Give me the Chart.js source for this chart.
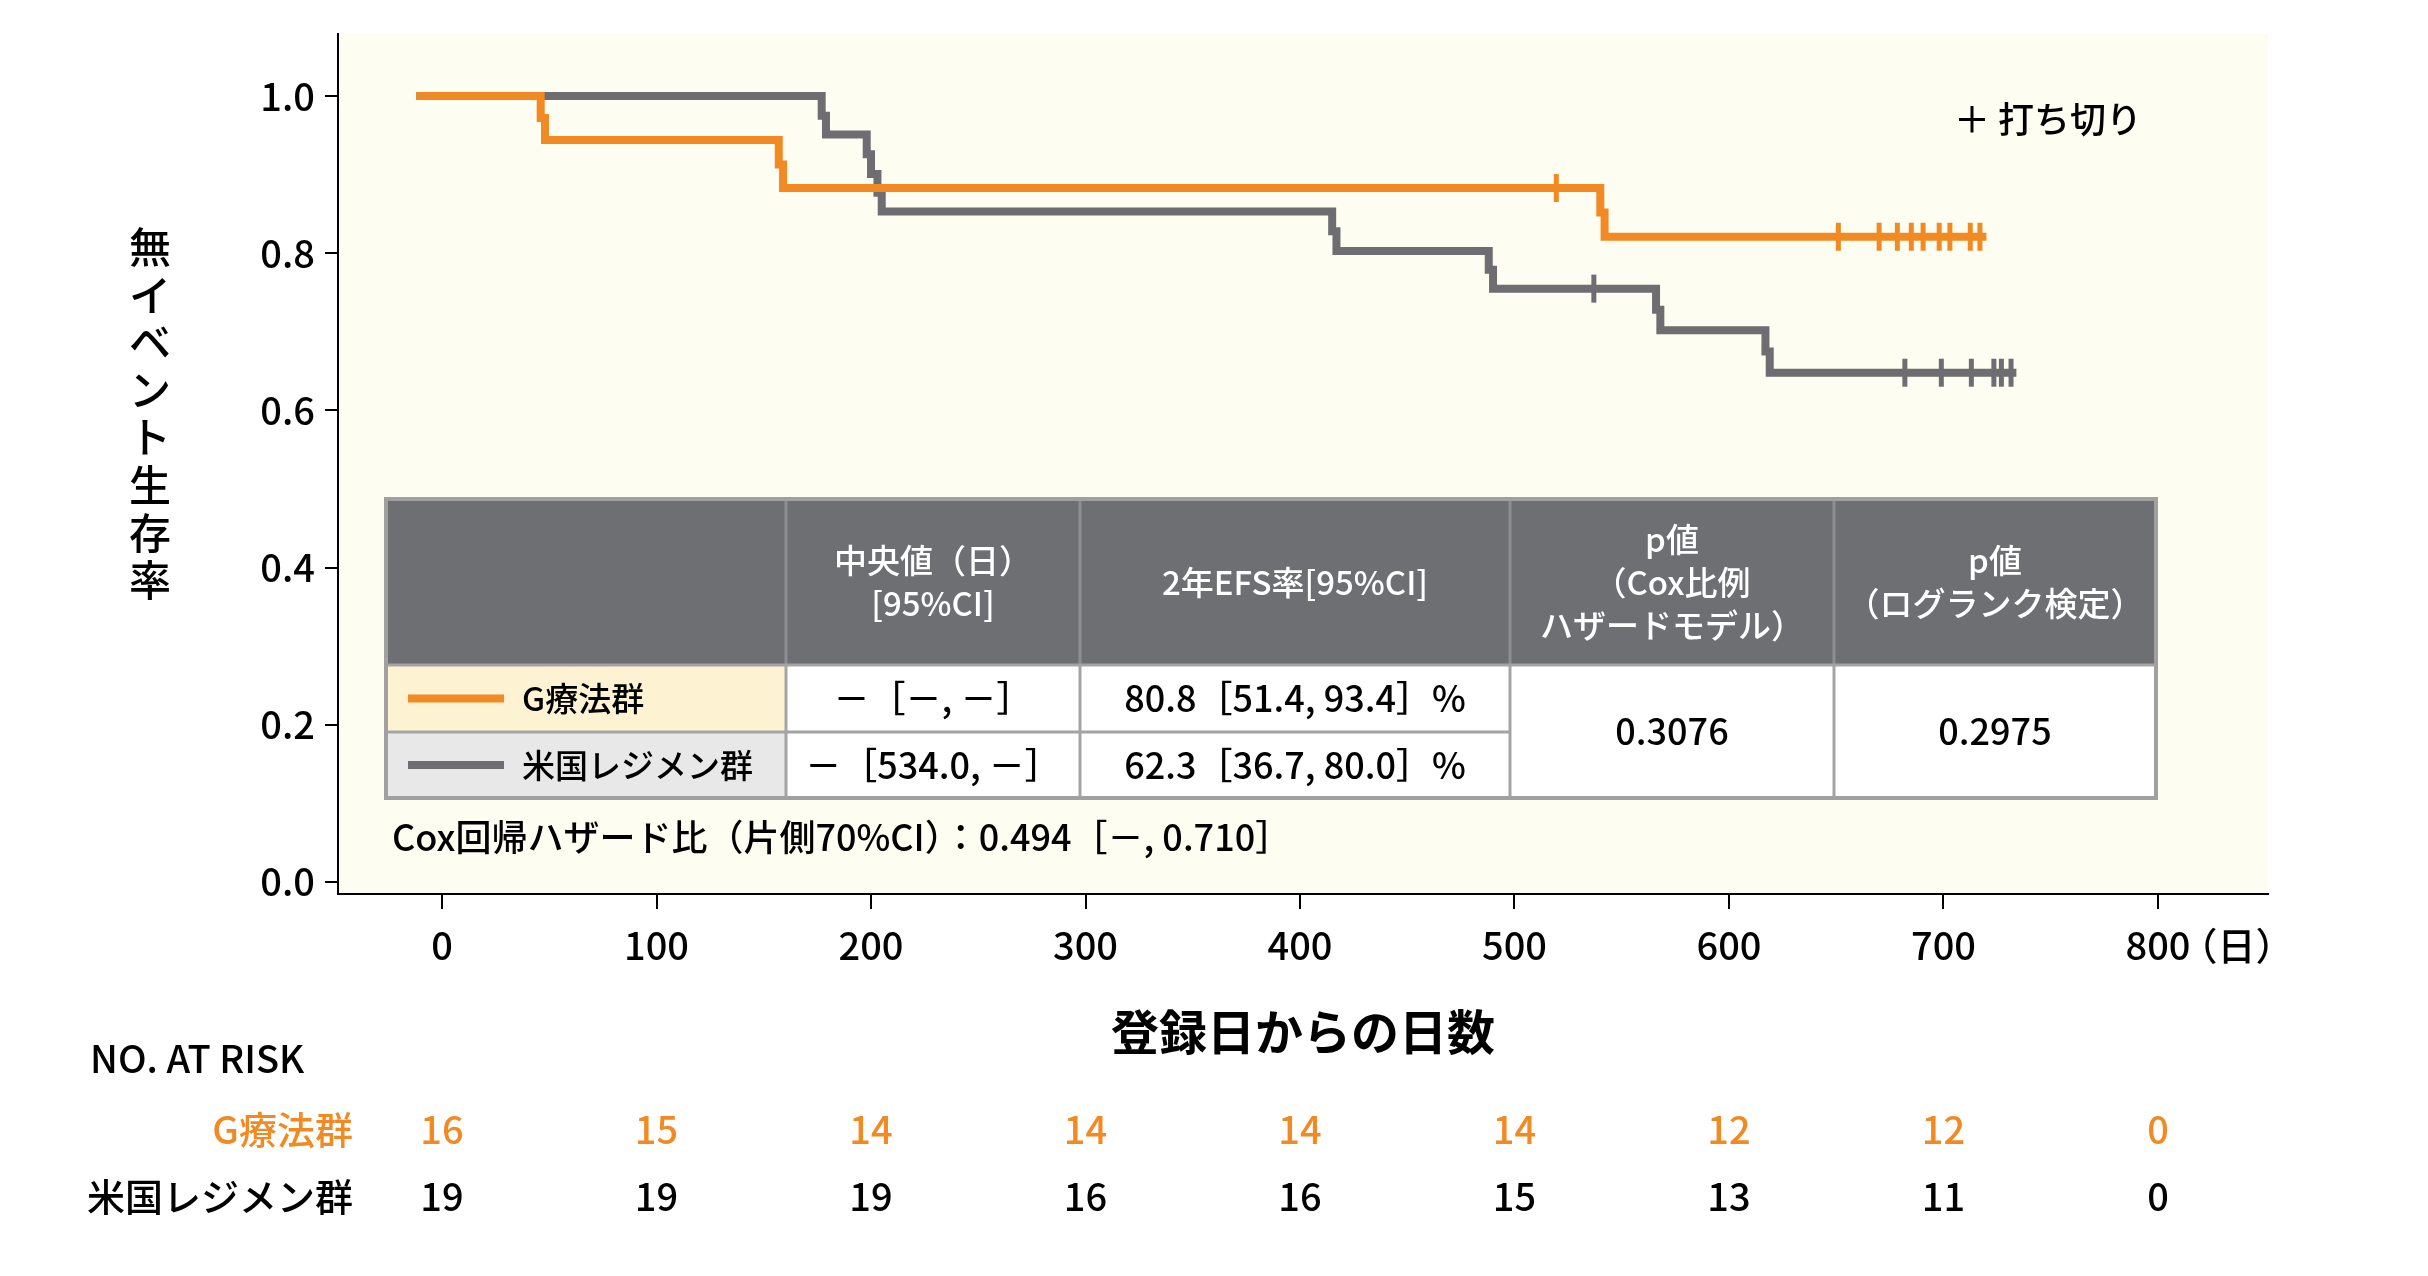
<!DOCTYPE html>
<html lang="ja">
<head>
  <meta charset="UTF-8" />
  <title>無イベント生存率</title>
  <script src="https://cdn.jsdelivr.net/npm/chart.js"></script>
  <style>
    html, body { margin: 0; padding: 0; background: #ffffff; }
    .wrap { width: 2428px; height: 1276px; position: relative; }
  </style>
</head>
<body>
  <div class="wrap"><canvas id="km"></canvas></div>

  <script>
    // step curves (day, survival)
    const gDays = [-12, 46, 48, 157, 159, 540, 542, 720];
    const gSurv = [1, 0.972, 0.944, 0.913, 0.883, 0.852, 0.821, 0.821];
    const uDays = [-12, 177, 179, 198, 200, 203, 205, 415, 417, 488, 490, 566, 568, 617, 619, 734];
    const uSurv = [1, 0.975, 0.951, 0.926, 0.901, 0.877, 0.853, 0.828, 0.803, 0.779, 0.755, 0.728, 0.702, 0.675, 0.648, 0.648];

    // censor marks
    const gCensorDays = [519.5, 651, 670, 678.5, 685, 690.5, 698, 703, 712.5, 717];
    const gCensorSurv = [0.883, 0.821, 0.821, 0.821, 0.821, 0.821, 0.821, 0.821, 0.821, 0.821];
    const uCensorDays = [537, 682, 699, 713, 723.5, 727, 731.5];
    const uCensorSurv = [0.755, 0.648, 0.648, 0.648, 0.648, 0.648, 0.648];

    const xTicks = [0, 100, 200, 300, 400, 500, 600, 700, 800];
    const yTicks = [0, 0.2, 0.4, 0.6, 0.8, 1.0];

    const groups = ["G療法群", "米国レジメン群"];
    const atRiskG = [16, 15, 14, 14, 14, 14, 12, 12, 0];
    const atRiskU = [19, 19, 19, 16, 16, 15, 13, 11, 0];

    const medianTxt = ["－［－, －］", "－［534.0, －］"];
    const efsTxt = ["80.8［51.4, 93.4］%", "62.3［36.7, 80.0］%"];
    const pCox = "0.3076";
    const pLogrank = "0.2975";

    const ORANGE = "#F28A24";
    const GRAY = "#6E6E72";
    const FONT = "'Noto Sans CJK JP', 'Noto Sans', sans-serif";

    const pts = (xs, ys) => xs.map((x, i) => ({ x: x, y: ys[i] }));

    const decorPlugin = {
      id: "decor",
      beforeDraw(chart) {
        const { ctx, chartArea: a } = chart;
        ctx.save();
        ctx.fillStyle = "#FEFDF1";
        ctx.fillRect(a.left, a.top, a.right - a.left, a.bottom - a.top);
        ctx.restore();
      },
      afterDraw(chart) {
        const { ctx, chartArea: a } = chart;
        const xs = chart.scales.x;
        ctx.save();
        ctx.fillStyle = "#000";
        ctx.textBaseline = "middle";

        // y title, one character under the other
        ctx.font = "500 42px " + FONT;
        ctx.textAlign = "center";
        Array.from("無イベント生存率").forEach((c, i) => {
          ctx.fillText(c, 150, 247 + i * 47.6);
        });

        // x title
        ctx.font = "bold 48px " + FONT;
        ctx.fillText("登録日からの日数", (a.left + a.right) / 2, 1032);

        // unit after the last tick label
        ctx.font = "500 38px " + FONT;
        const w800 = ctx.measureText("800").width;
        ctx.textAlign = "left";
        ctx.fillText("（日）", xs.getPixelForValue(800) + w800 / 2 - 11, 946);

        // censor legend
        ctx.font = "500 36px " + FONT;
        ctx.fillText("＋ 打ち切り", 1954, 119);

        // summary table
        const cx = [386, 786, 1080, 1510, 1834, 2156];
        const ry = [499, 665, 732, 798];
        ctx.fillStyle = "#6E6F73";
        ctx.fillRect(cx[0], ry[0], cx[5] - cx[0], ry[1] - ry[0]);
        ctx.fillStyle = "#ffffff";
        ctx.fillRect(cx[0], ry[1], cx[5] - cx[0], ry[3] - ry[1]);
        ctx.fillStyle = "#FDF3D2";
        ctx.fillRect(cx[0], ry[1], cx[1] - cx[0], ry[2] - ry[1]);
        ctx.fillStyle = "#E8E8E8";
        ctx.fillRect(cx[0], ry[2], cx[1] - cx[0], ry[3] - ry[2]);

        ctx.lineWidth = 3;
        ctx.strokeStyle = "#8E8F92";
        for (let i = 1; i < 5; i++) {
          ctx.beginPath();
          ctx.moveTo(cx[i], ry[0]);
          ctx.lineTo(cx[i], ry[1]);
          ctx.stroke();
        }
        ctx.strokeStyle = "#A4A4A4";
        for (let i = 1; i < 5; i++) {
          ctx.beginPath();
          ctx.moveTo(cx[i], ry[1]);
          ctx.lineTo(cx[i], ry[3]);
          ctx.stroke();
        }
        ctx.beginPath();
        ctx.moveTo(cx[0], ry[1]);
        ctx.lineTo(cx[5], ry[1]);
        ctx.moveTo(cx[0], ry[2]);
        ctx.lineTo(cx[3], ry[2]);
        ctx.stroke();
        ctx.lineWidth = 4;
        ctx.strokeStyle = "#A0A0A0";
        ctx.strokeRect(cx[0], ry[0], cx[5] - cx[0], ry[3] - ry[0]);

        // header text
        ctx.fillStyle = "#ffffff";
        ctx.font = "500 33px " + FONT;
        ctx.textAlign = "center";
        const hdr = [
          [],
          ["中央値（日）", "[95%CI]"],
          ["2年EFS率[95%CI]"],
          ["p値", "（Cox比例", "ハザードモデル）"],
          ["p値", "（ログランク検定）"]
        ];
        const hMid = (ry[0] + ry[1]) / 2;
        hdr.forEach((lines, i) => {
          if (!lines.length) return;
          const mid = (cx[i] + cx[i + 1]) / 2;
          lines.forEach((t, j) => {
            ctx.fillText(t, mid, hMid + (j - (lines.length - 1) / 2) * 43);
          });
        });

        // body rows
        ctx.fillStyle = "#000";
        [ORANGE, GRAY].forEach((col, r) => {
          const yMid = (ry[r + 1] + ry[r + 2]) / 2;
          ctx.strokeStyle = col;
          ctx.lineWidth = 8;
          ctx.beginPath();
          ctx.moveTo(408, yMid);
          ctx.lineTo(504, yMid);
          ctx.stroke();
          ctx.font = "500 33px " + FONT;
          ctx.textAlign = "left";
          ctx.fillText(groups[r], 522, yMid);
          ctx.font = "500 36px " + FONT;
          ctx.textAlign = "center";
          ctx.fillText(medianTxt[r], (cx[1] + cx[2]) / 2, yMid);
          ctx.fillText(efsTxt[r], (cx[2] + cx[3]) / 2, yMid);
        });
        const mMid = (ry[1] + ry[3]) / 2;
        ctx.fillText(pCox, (cx[3] + cx[4]) / 2, mMid);
        ctx.fillText(pLogrank, (cx[4] + cx[5]) / 2, mMid);

        ctx.textAlign = "left";
        ctx.fillText("Cox回帰ハザード比（片側70%CI）：0.494［－, 0.710］", 392, 837);

        // numbers at risk
        ctx.font = "500 38px " + FONT;
        ctx.fillText("NO. AT RISK", 90, 1059);
        ctx.textAlign = "right";
        ctx.fillStyle = ORANGE;
        ctx.fillText(groups[0], 353, 1130);
        ctx.fillStyle = "#000";
        ctx.fillText(groups[1], 353, 1197);
        ctx.textAlign = "center";
        xTicks.forEach((d, i) => {
          const px = xs.getPixelForValue(d);
          ctx.fillStyle = ORANGE;
          ctx.fillText(String(atRiskG[i]), px, 1130);
          ctx.fillStyle = "#000";
          ctx.fillText(String(atRiskU[i]), px, 1197);
        });
        ctx.restore();
      }
    };

    Chart.defaults.font.family = FONT;
    Chart.defaults.font.weight = 500;
    Chart.defaults.color = "#000";

    const chart = new Chart(document.getElementById("km"), {
      type: "line",
      data: {
        datasets: [
          {
            label: groups[0],
            data: pts(gDays, gSurv),
            borderColor: ORANGE,
            borderWidth: 8,
            stepped: "before",
            pointRadius: 0,
            fill: false,
            borderCapStyle: "butt"
          },
          {
            label: groups[0] + " 打ち切り",
            data: pts(gCensorDays, gCensorSurv),
            showLine: false,
            pointStyle: "line",
            pointRotation: 90,
            pointRadius: 14,
            pointBorderWidth: 5,
            pointBorderColor: ORANGE
          },
          {
            label: groups[1],
            data: pts(uDays, uSurv),
            borderColor: GRAY,
            borderWidth: 8,
            stepped: "before",
            pointRadius: 0,
            fill: false,
            borderCapStyle: "butt"
          },
          {
            label: groups[1] + " 打ち切り",
            data: pts(uCensorDays, uCensorSurv),
            showLine: false,
            pointStyle: "line",
            pointRotation: 90,
            pointRadius: 14,
            pointBorderWidth: 5,
            pointBorderColor: GRAY
          }
        ]
      },
      options: {
        responsive: true,
        maintainAspectRatio: false,
        animation: false,
        events: [],
        layout: { padding: { top: 34, right: 160, left: 0, bottom: 0 } },
        plugins: { legend: { display: false }, tooltip: { enabled: false } },
        scales: {
          x: {
            type: "linear",
            min: -48.5,
            max: 851.3,
            afterBuildTicks: s => { s.ticks = xTicks.map(v => ({ value: v })); },
            afterFit: s => { s.height = 382; },
            border: { display: true, color: "#000", width: 2 },
            grid: { display: true, drawOnChartArea: false, drawTicks: true, tickLength: 15, color: "#000", lineWidth: 2 },
            ticks: { font: { size: 38 }, padding: 14, maxRotation: 0, color: "#000" }
          },
          y: {
            min: -0.0153,
            max: 1.079,
            afterBuildTicks: s => { s.ticks = yTicks.map(v => ({ value: v })); },
            afterFit: s => { s.width = 338; },
            border: { display: true, color: "#000", width: 2 },
            grid: { display: true, drawOnChartArea: false, drawTicks: true, tickLength: 13, color: "#000", lineWidth: 2 },
            ticks: { font: { size: 38 }, padding: 10, color: "#000", callback: v => v.toFixed(1) }
          }
        }
      },
      plugins: [decorPlugin]
    });
  </script>
</body>
</html>
